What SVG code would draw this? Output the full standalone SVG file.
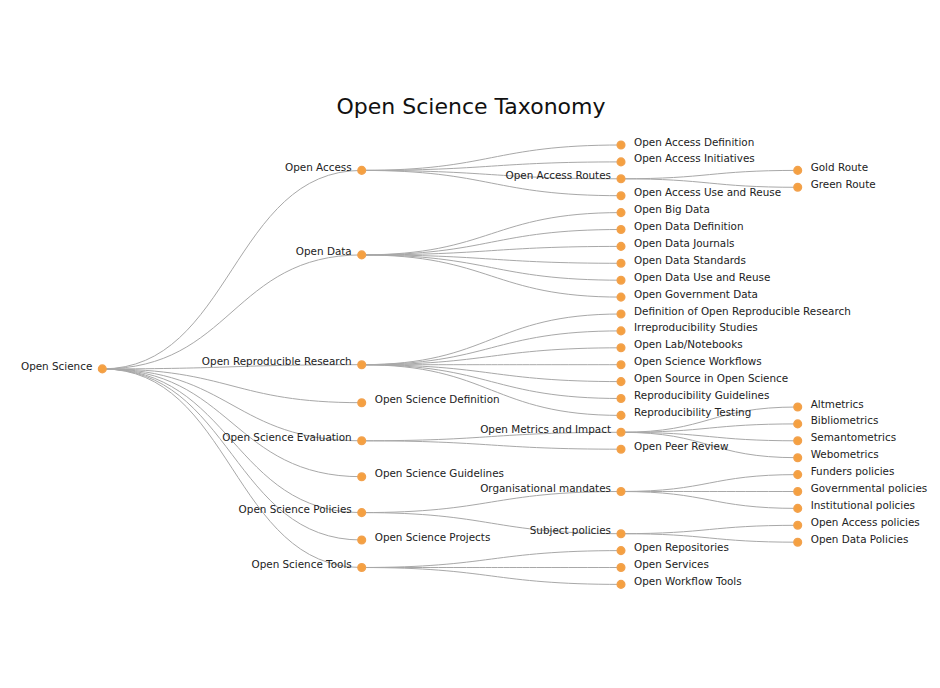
<svg xmlns="http://www.w3.org/2000/svg" width="940" height="688" viewBox="0 0 940 688">
<style>
.bg{fill:#ffffff}
.title{font-family:"DejaVu Sans",Verdana,sans-serif;font-size:22px;fill:#111;text-anchor:middle}
.links path{fill:none;stroke:#a8a8a8;stroke-width:1}
.node circle{fill:#f5a040;stroke:#f2a24e;stroke-width:1.5}
.node text{font-family:"DejaVu Sans",Verdana,sans-serif;font-size:10.4px;fill:#222}
.node .in{text-anchor:end}
.node .lf{text-anchor:start}
</style>
<rect class="bg" x="0" y="0" width="940" height="688"/>
<text class="title" x="471" y="114">Open Science Taxonomy</text>
<g class="links" id="links">
<path d="M102.3,368.9C232,368.9 232,170.4 361.7,170.4"/>
<path d="M102.3,368.9C232,368.9 232,254.9 361.7,254.9"/>
<path d="M102.3,368.9C232,368.9 232,364.7 361.7,364.7"/>
<path d="M102.3,368.9C232,368.9 232,402.7 361.7,402.7"/>
<path d="M102.3,368.9C232,368.9 232,440.8 361.7,440.8"/>
<path d="M102.3,368.9C232,368.9 232,476.7 361.7,476.7"/>
<path d="M102.3,368.9C232,368.9 232,512.6 361.7,512.6"/>
<path d="M102.3,368.9C232,368.9 232,540.0 361.7,540.0"/>
<path d="M102.3,368.9C232,368.9 232,567.5 361.7,567.5"/>
<path d="M361.7,170.4C491.4,170.4 491.4,145 621,145"/>
<path d="M361.7,170.4C491.4,170.4 491.4,161.9 621,161.9"/>
<path d="M361.7,170.4C491.4,170.4 491.4,178.8 621,178.8"/>
<path d="M361.7,170.4C491.4,170.4 491.4,195.7 621,195.7"/>
<path d="M361.7,254.9C491.4,254.9 491.4,212.6 621,212.6"/>
<path d="M361.7,254.9C491.4,254.9 491.4,229.5 621,229.5"/>
<path d="M361.7,254.9C491.4,254.9 491.4,246.4 621,246.4"/>
<path d="M361.7,254.9C491.4,254.9 491.4,263.3 621,263.3"/>
<path d="M361.7,254.9C491.4,254.9 491.4,280.2 621,280.2"/>
<path d="M361.7,254.9C491.4,254.9 491.4,297.1 621,297.1"/>
<path d="M361.7,364.7C491.4,364.7 491.4,314 621,314"/>
<path d="M361.7,364.7C491.4,364.7 491.4,330.9 621,330.9"/>
<path d="M361.7,364.7C491.4,364.7 491.4,347.8 621,347.8"/>
<path d="M361.7,364.7C491.4,364.7 491.4,364.7 621,364.7"/>
<path d="M361.7,364.7C491.4,364.7 491.4,381.6 621,381.6"/>
<path d="M361.7,364.7C491.4,364.7 491.4,398.5 621,398.5"/>
<path d="M361.7,364.7C491.4,364.7 491.4,415.4 621,415.4"/>
<path d="M361.7,440.8C491.4,440.8 491.4,432.3 621,432.3"/>
<path d="M361.7,440.8C491.4,440.8 491.4,449.2 621,449.2"/>
<path d="M361.7,512.6C491.4,512.6 491.4,491.5 621,491.5"/>
<path d="M361.7,512.6C491.4,512.6 491.4,533.7 621,533.7"/>
<path d="M361.7,567.5C491.4,567.5 491.4,550.6 621,550.6"/>
<path d="M361.7,567.5C491.4,567.5 491.4,567.5 621,567.5"/>
<path d="M361.7,567.5C491.4,567.5 491.4,584.4 621,584.4"/>
<path d="M621,178.8C709.4,178.8 709.4,170.4 797.7,170.4"/>
<path d="M621,178.8C709.4,178.8 709.4,187.3 797.7,187.3"/>
<path d="M621,432.3C709.4,432.3 709.4,407 797.7,407"/>
<path d="M621,432.3C709.4,432.3 709.4,423.9 797.7,423.9"/>
<path d="M621,432.3C709.4,432.3 709.4,440.8 797.7,440.8"/>
<path d="M621,432.3C709.4,432.3 709.4,457.7 797.7,457.7"/>
<path d="M621,491.5C709.4,491.5 709.4,474.6 797.7,474.6"/>
<path d="M621,491.5C709.4,491.5 709.4,491.5 797.7,491.5"/>
<path d="M621,491.5C709.4,491.5 709.4,508.4 797.7,508.4"/>
<path d="M621,533.7C709.4,533.7 709.4,525.3 797.7,525.3"/>
<path d="M621,533.7C709.4,533.7 709.4,542.2 797.7,542.2"/>
</g>
<g id="n-open-science" class="node" transform="translate(102.3,368.9)"><circle r="3.8"/><text class="in" x="-10" y="1.2">Open Science</text></g>
<g id="n-open-access" class="node" transform="translate(361.7,170.4)"><circle r="3.8"/><text class="in" x="-10" y="0.5">Open Access</text></g>
<g id="n-open-data" class="node" transform="translate(361.7,254.9)"><circle r="3.8"/><text class="in" x="-10" y="0.5">Open Data</text></g>
<g id="n-open-reproducible-research" class="node" transform="translate(361.7,364.7)"><circle r="3.8"/><text class="in" x="-10" y="0.5">Open Reproducible Research</text></g>
<g id="n-open-science-definition" class="node" transform="translate(361.7,402.7)"><circle r="3.8"/><text class="lf" x="13" y="0.5">Open Science Definition</text></g>
<g id="n-open-science-evaluation" class="node" transform="translate(361.7,440.8)"><circle r="3.8"/><text class="in" x="-10" y="0.5">Open Science Evaluation</text></g>
<g id="n-open-science-guidelines" class="node" transform="translate(361.7,476.7)"><circle r="3.8"/><text class="lf" x="13" y="0.5">Open Science Guidelines</text></g>
<g id="n-open-science-policies" class="node" transform="translate(361.7,512.6)"><circle r="3.8"/><text class="in" x="-10" y="0.5">Open Science Policies</text></g>
<g id="n-open-science-projects" class="node" transform="translate(361.7,540.0)"><circle r="3.8"/><text class="lf" x="13" y="0.5">Open Science Projects</text></g>
<g id="n-open-science-tools" class="node" transform="translate(361.7,567.5)"><circle r="3.8"/><text class="in" x="-10" y="0.5">Open Science Tools</text></g>
<g id="n-oa-definition" class="node" transform="translate(621,145)"><circle r="3.8"/><text class="lf" x="13" y="0.5">Open Access Definition</text></g>
<g id="n-oa-initiatives" class="node" transform="translate(621,161.9)"><circle r="3.8"/><text class="lf" x="13" y="0.5">Open Access Initiatives</text></g>
<g id="n-oa-routes" class="node" transform="translate(621,178.8)"><circle r="3.8"/><text class="in" x="-10" y="0.5">Open Access Routes</text></g>
<g id="n-oa-use-reuse" class="node" transform="translate(621,195.7)"><circle r="3.8"/><text class="lf" x="13" y="0.5">Open Access Use and Reuse</text></g>
<g id="n-open-big-data" class="node" transform="translate(621,212.6)"><circle r="3.8"/><text class="lf" x="13" y="0.5">Open Big Data</text></g>
<g id="n-od-definition" class="node" transform="translate(621,229.5)"><circle r="3.8"/><text class="lf" x="13" y="0.5">Open Data Definition</text></g>
<g id="n-od-journals" class="node" transform="translate(621,246.4)"><circle r="3.8"/><text class="lf" x="13" y="0.5">Open Data Journals</text></g>
<g id="n-od-standards" class="node" transform="translate(621,263.3)"><circle r="3.8"/><text class="lf" x="13" y="0.5">Open Data Standards</text></g>
<g id="n-od-use-reuse" class="node" transform="translate(621,280.2)"><circle r="3.8"/><text class="lf" x="13" y="0.5">Open Data Use and Reuse</text></g>
<g id="n-open-government-data" class="node" transform="translate(621,297.1)"><circle r="3.8"/><text class="lf" x="13" y="0.5">Open Government Data</text></g>
<g id="n-def-orr" class="node" transform="translate(621,314)"><circle r="3.8"/><text class="lf" x="13" y="0.5">Definition of Open Reproducible Research</text></g>
<g id="n-irreproducibility" class="node" transform="translate(621,330.9)"><circle r="3.8"/><text class="lf" x="13" y="0.5">Irreproducibility Studies</text></g>
<g id="n-open-lab" class="node" transform="translate(621,347.8)"><circle r="3.8"/><text class="lf" x="13" y="0.5">Open Lab/Notebooks</text></g>
<g id="n-os-workflows" class="node" transform="translate(621,364.7)"><circle r="3.8"/><text class="lf" x="13" y="0.5">Open Science Workflows</text></g>
<g id="n-open-source" class="node" transform="translate(621,381.6)"><circle r="3.8"/><text class="lf" x="13" y="0.5">Open Source in Open Science</text></g>
<g id="n-repro-guidelines" class="node" transform="translate(621,398.5)"><circle r="3.8"/><text class="lf" x="13" y="0.5">Reproducibility Guidelines</text></g>
<g id="n-repro-testing" class="node" transform="translate(621,415.4)"><circle r="3.8"/><text class="lf" x="13" y="0.5">Reproducibility Testing</text></g>
<g id="n-open-metrics" class="node" transform="translate(621,432.3)"><circle r="3.8"/><text class="in" x="-10" y="0.5">Open Metrics and Impact</text></g>
<g id="n-open-peer-review" class="node" transform="translate(621,449.2)"><circle r="3.8"/><text class="lf" x="13" y="0.5">Open Peer Review</text></g>
<g id="n-org-mandates" class="node" transform="translate(621,491.5)"><circle r="3.8"/><text class="in" x="-10" y="0.5">Organisational mandates</text></g>
<g id="n-subject-policies" class="node" transform="translate(621,533.7)"><circle r="3.8"/><text class="in" x="-10" y="0.5">Subject policies</text></g>
<g id="n-open-repositories" class="node" transform="translate(621,550.6)"><circle r="3.8"/><text class="lf" x="13" y="0.5">Open Repositories</text></g>
<g id="n-open-services" class="node" transform="translate(621,567.5)"><circle r="3.8"/><text class="lf" x="13" y="0.5">Open Services</text></g>
<g id="n-open-workflow-tools" class="node" transform="translate(621,584.4)"><circle r="3.8"/><text class="lf" x="13" y="0.5">Open Workflow Tools</text></g>
<g id="n-gold-route" class="node" transform="translate(797.7,170.4)"><circle r="3.8"/><text class="lf" x="13" y="0.5">Gold Route</text></g>
<g id="n-green-route" class="node" transform="translate(797.7,187.3)"><circle r="3.8"/><text class="lf" x="13" y="0.5">Green Route</text></g>
<g id="n-altmetrics" class="node" transform="translate(797.7,407)"><circle r="3.8"/><text class="lf" x="13" y="0.5">Altmetrics</text></g>
<g id="n-bibliometrics" class="node" transform="translate(797.7,423.9)"><circle r="3.8"/><text class="lf" x="13" y="0.5">Bibliometrics</text></g>
<g id="n-semantometrics" class="node" transform="translate(797.7,440.8)"><circle r="3.8"/><text class="lf" x="13" y="0.5">Semantometrics</text></g>
<g id="n-webometrics" class="node" transform="translate(797.7,457.7)"><circle r="3.8"/><text class="lf" x="13" y="0.5">Webometrics</text></g>
<g id="n-funders-policies" class="node" transform="translate(797.7,474.6)"><circle r="3.8"/><text class="lf" x="13" y="0.5">Funders policies</text></g>
<g id="n-governmental-policies" class="node" transform="translate(797.7,491.5)"><circle r="3.8"/><text class="lf" x="13" y="0.5">Governmental policies</text></g>
<g id="n-institutional-policies" class="node" transform="translate(797.7,508.4)"><circle r="3.8"/><text class="lf" x="13" y="0.5">Institutional policies</text></g>
<g id="n-oa-policies" class="node" transform="translate(797.7,525.3)"><circle r="3.8"/><text class="lf" x="13" y="0.5">Open Access policies</text></g>
<g id="n-od-policies" class="node" transform="translate(797.7,542.2)"><circle r="3.8"/><text class="lf" x="13" y="0.5">Open Data Policies</text></g>
</svg>
